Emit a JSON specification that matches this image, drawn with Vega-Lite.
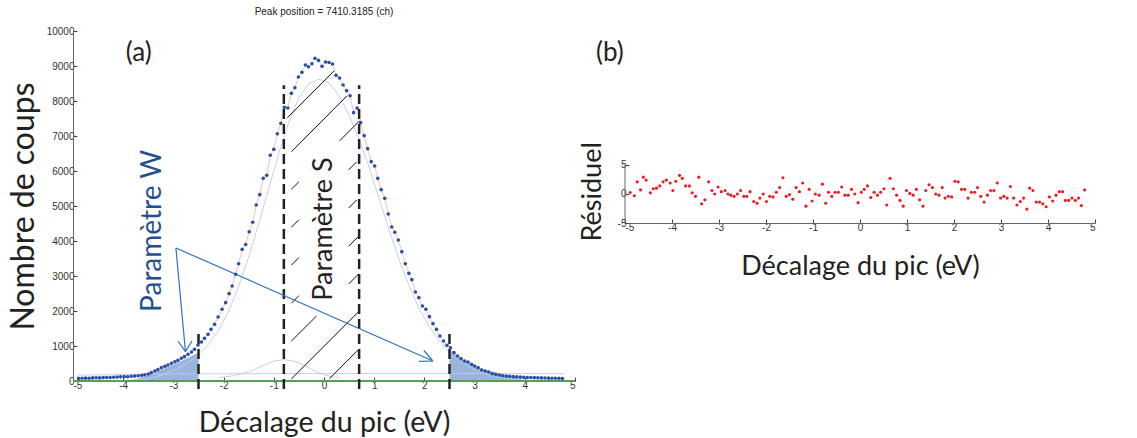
{
  "$schema": "https://vega.github.io/schema/vega-lite/v6.json",
  "padding": {"left": 7, "top": 7, "right": 5, "bottom": 5},
  "spacing": 2,
  "config": {
    "view": {"stroke": null},
    "axis": {
      "labelFont": "Liberation Sans", "labelFontSize": 10, "labelColor": "#333", "labelExpr": "'' + datum.value",
      "titleFont": "Lato", "titleFontWeight": "normal", "titleColor": "#222",
      "domainColor": "#666", "tickColor": "#444", "tickSize": -4, "grid": false, "labelPadding": 3
    }
  },
  "datasets": {
    "dots": [
      {"x":-4.89,"y":75},{"x":-4.82,"y":78},{"x":-4.75,"y":82},{"x":-4.68,"y":80},{"x":-4.61,"y":88},{"x":-4.54,"y":92},{"x":-4.47,"y":88},{"x":-4.40,"y":95},{"x":-4.33,"y":98},{"x":-4.26,"y":102},{"x":-4.19,"y":108},{"x":-4.12,"y":112},{"x":-4.05,"y":118},{"x":-3.98,"y":125},{"x":-3.91,"y":122},{"x":-3.84,"y":135},{"x":-3.77,"y":140},{"x":-3.70,"y":150},{"x":-3.63,"y":162},{"x":-3.57,"y":178},{"x":-3.50,"y":200},{"x":-3.44,"y":238},{"x":-3.37,"y":286},{"x":-3.31,"y":324},{"x":-3.24,"y":381},{"x":-3.17,"y":419},{"x":-3.11,"y":457},{"x":-3.04,"y":505},{"x":-2.97,"y":552},{"x":-2.91,"y":590},{"x":-2.84,"y":648},{"x":-2.78,"y":695},{"x":-2.71,"y":762},{"x":-2.64,"y":829},{"x":-2.58,"y":905},{"x":-2.51,"y":1029},{"x":-2.44,"y":1114},{"x":-2.38,"y":1219},{"x":-2.31,"y":1333},{"x":-2.25,"y":1476},{"x":-2.18,"y":1619},{"x":-2.11,"y":1829},{"x":-2.03,"y":2048},{"x":-1.96,"y":2238},{"x":-1.89,"y":2495},{"x":-1.83,"y":2714},{"x":-1.76,"y":3048},{"x":-1.70,"y":3352},{"x":-1.63,"y":3760},{"x":-1.56,"y":3900},{"x":-1.49,"y":4266},{"x":-1.42,"y":4534},{"x":-1.35,"y":5029},{"x":-1.28,"y":5324},{"x":-1.21,"y":5790},{"x":-1.14,"y":5876},{"x":-1.07,"y":6448},{"x":-1.00,"y":6619},{"x":-0.93,"y":7066},{"x":-0.86,"y":7362},{"x":-0.79,"y":7819},{"x":-0.72,"y":7800},{"x":-0.65,"y":8219},{"x":-0.58,"y":8380},{"x":-0.51,"y":8686},{"x":-0.44,"y":8819},{"x":-0.37,"y":9029},{"x":-0.31,"y":8980},{"x":-0.24,"y":9066},{"x":-0.18,"y":9220},{"x":-0.11,"y":9160},{"x":-0.04,"y":8990},{"x":0.03,"y":9114},{"x":0.10,"y":9100},{"x":0.17,"y":9057},{"x":0.24,"y":8733},{"x":0.31,"y":8657},{"x":0.38,"y":8457},{"x":0.45,"y":8295},{"x":0.52,"y":8152},{"x":0.59,"y":7667},{"x":0.66,"y":7800},{"x":0.73,"y":7381},{"x":0.80,"y":7010},{"x":0.87,"y":6638},{"x":0.94,"y":6267},{"x":1.01,"y":6143},{"x":1.07,"y":5790},{"x":1.14,"y":5467},{"x":1.21,"y":5219},{"x":1.28,"y":4771},{"x":1.35,"y":4400},{"x":1.41,"y":4248},{"x":1.48,"y":4029},{"x":1.55,"y":3695},{"x":1.62,"y":3352},{"x":1.69,"y":3076},{"x":1.75,"y":2895},{"x":1.82,"y":2543},{"x":1.89,"y":2381},{"x":1.96,"y":2143},{"x":2.03,"y":2048},{"x":2.10,"y":1838},{"x":2.17,"y":1638},{"x":2.24,"y":1476},{"x":2.31,"y":1286},{"x":2.38,"y":1143},{"x":2.45,"y":1019},{"x":2.52,"y":952},{"x":2.59,"y":810},{"x":2.66,"y":714},{"x":2.73,"y":638},{"x":2.80,"y":571},{"x":2.87,"y":543},{"x":2.94,"y":480},{"x":3.00,"y":428},{"x":3.07,"y":381},{"x":3.14,"y":314},{"x":3.21,"y":286},{"x":3.28,"y":257},{"x":3.35,"y":210},{"x":3.42,"y":190},{"x":3.49,"y":171},{"x":3.56,"y":150},{"x":3.63,"y":140},{"x":3.70,"y":135},{"x":3.77,"y":125},{"x":3.84,"y":118},{"x":3.91,"y":110},{"x":3.98,"y":105},{"x":4.05,"y":100},{"x":4.12,"y":98},{"x":4.19,"y":95},{"x":4.26,"y":90},{"x":4.33,"y":88},{"x":4.40,"y":85},{"x":4.47,"y":82},{"x":4.54,"y":80},{"x":4.61,"y":78},{"x":4.68,"y":76},{"x":4.75,"y":73}
    ],
    "comp": [
      {"part":"main","x":-4.9,"y":0},{"part":"main","x":-4.0,"y":10},{"part":"main","x":-3.5,"y":60},{"part":"main","x":-3.2,"y":180},{"part":"main","x":-3.0,"y":300},{"part":"main","x":-2.8,"y":450},{"part":"main","x":-2.6,"y":620},{"part":"main","x":-2.5,"y":760},{"part":"main","x":-2.3,"y":1050},{"part":"main","x":-2.1,"y":1450},{"part":"main","x":-1.9,"y":2000},{"part":"main","x":-1.7,"y":2700},{"part":"main","x":-1.5,"y":3550},{"part":"main","x":-1.3,"y":4500},{"part":"main","x":-1.1,"y":5500},{"part":"main","x":-0.9,"y":6500},{"part":"main","x":-0.7,"y":7400},{"part":"main","x":-0.5,"y":8100},{"part":"main","x":-0.3,"y":8500},{"part":"main","x":-0.1,"y":8620},{"part":"main","x":0.1,"y":8520},{"part":"main","x":0.3,"y":8150},{"part":"main","x":0.5,"y":7600},{"part":"main","x":0.7,"y":6900},{"part":"main","x":0.9,"y":6100},{"part":"main","x":1.1,"y":5200},{"part":"main","x":1.3,"y":4300},{"part":"main","x":1.5,"y":3450},{"part":"main","x":1.7,"y":2700},{"part":"main","x":1.9,"y":2050},{"part":"main","x":2.1,"y":1550},{"part":"main","x":2.3,"y":1150},{"part":"main","x":2.5,"y":820},{"part":"main","x":2.7,"y":580},{"part":"main","x":2.9,"y":400},{"part":"main","x":3.1,"y":270},{"part":"main","x":3.3,"y":170},{"part":"main","x":3.5,"y":100},{"part":"main","x":3.8,"y":40},{"part":"main","x":4.2,"y":10},{"part":"main","x":4.8,"y":0},
      {"part":"bg","x":-4.9,"y":170},{"part":"bg","x":-2.5,"y":205},{"part":"bg","x":0,"y":215},{"part":"bg","x":2.5,"y":215},{"part":"bg","x":4.8,"y":210},
      {"part":"hump","x":-2.1,"y":100},{"part":"hump","x":-1.8,"y":150},{"part":"hump","x":-1.5,"y":260},{"part":"hump","x":-1.2,"y":450},{"part":"hump","x":-1.0,"y":570},{"part":"hump","x":-0.8,"y":610},{"part":"hump","x":-0.6,"y":570},{"part":"hump","x":-0.4,"y":450},{"part":"hump","x":-0.2,"y":300},{"part":"hump","x":0.0,"y":180},{"part":"hump","x":0.15,"y":120},{"part":"hump","x":0.3,"y":100}
    ],
    "tails": [
      {"side":"L","x":-3.8,"y":20},{"side":"L","x":-3.6,"y":120},{"side":"L","x":-3.4,"y":220},{"side":"L","x":-3.2,"y":350},{"side":"L","x":-3.0,"y":470},{"side":"L","x":-2.8,"y":600},{"side":"L","x":-2.6,"y":740},{"side":"L","x":-2.5,"y":800},
      {"side":"R","x":2.5,"y":900},{"side":"R","x":2.75,"y":600},{"side":"R","x":3.0,"y":420},{"side":"R","x":3.3,"y":280},{"side":"R","x":3.6,"y":180},{"side":"R","x":3.9,"y":60},{"side":"R","x":4.0,"y":0}
    ],
    "seg": [
      {"kind":"hatch","x":-0.73,"y":7520,"x2":0.20,"y2":8860},
      {"kind":"hatch","x":-0.65,"y":6550,"x2":0.46,"y2":8150},
      {"kind":"hatch","x":-0.65,"y":5480,"x2":-0.50,"y2":5690},
      {"kind":"hatch","x":0.31,"y":6860,"x2":0.70,"y2":7420},
      {"kind":"hatch","x":-0.65,"y":4390,"x2":-0.50,"y2":4610},
      {"kind":"hatch","x":0.49,"y":6030,"x2":0.65,"y2":6260},
      {"kind":"hatch","x":-0.65,"y":3310,"x2":-0.50,"y2":3530},
      {"kind":"hatch","x":0.49,"y":4940,"x2":0.65,"y2":5170},
      {"kind":"hatch","x":-0.65,"y":2220,"x2":-0.50,"y2":2440},
      {"kind":"hatch","x":0.49,"y":3850,"x2":0.68,"y2":4120},
      {"kind":"hatch","x":-0.65,"y":1140,"x2":-0.15,"y2":1855},
      {"kind":"hatch","x":0.49,"y":2770,"x2":0.69,"y2":3060},
      {"kind":"hatch","x":-0.65,"y":60,"x2":0.69,"y2":1980},
      {"kind":"hatch","x":0.11,"y":68,"x2":0.69,"y2":900},
      {"kind":"dash","x":-0.8,"y":-230,"x2":-0.8,"y2":8450},
      {"kind":"dash","x":0.7,"y":-230,"x2":0.7,"y2":8450},
      {"kind":"dash","x":-2.5,"y":-230,"x2":-2.5,"y2":1380},
      {"kind":"dash","x":2.5,"y":-230,"x2":2.5,"y2":1380},
      {"kind":"arrow","x":-2.95,"y":3800,"x2":-2.76,"y2":840},
      {"kind":"arrow","x":-2.95,"y":3800,"x2":2.17,"y2":571},
      {"kind":"arrow","x":-2.91,"y":1143,"x2":-2.76,"y2":840},
      {"kind":"arrow","x":-2.63,"y":1143,"x2":-2.76,"y2":840},
      {"kind":"arrow","x":1.99,"y":871,"x2":2.17,"y2":571},
      {"kind":"arrow","x":1.89,"y":563,"x2":2.17,"y2":571}
    ],
    "resid": [
      {"x":-4.89,"r":0.26},{"x":-4.80,"r":-0.3},{"x":-4.74,"r":2.1},{"x":-4.67,"r":0.7},{"x":-4.61,"r":2.9},{"x":-4.55,"r":2.4},{"x":-4.46,"r":0.2},{"x":-4.40,"r":0.9},{"x":-4.33,"r":1.0},{"x":-4.26,"r":1.4},{"x":-4.19,"r":2.1},{"x":-4.12,"r":2.4},{"x":-4.04,"r":1.9},{"x":-3.98,"r":0.6},{"x":-3.92,"r":2.2},{"x":-3.84,"r":3.2},{"x":-3.78,"r":2.7},{"x":-3.71,"r":1.4},{"x":-3.63,"r":1.4},{"x":-3.57,"r":0.2},{"x":-3.50,"r":-0.4},{"x":-3.43,"r":2.9},{"x":-3.37,"r":-1.7},{"x":-3.30,"r":-1.0},{"x":-3.22,"r":2.1},{"x":-3.15,"r":0.6},{"x":-3.09,"r":0},{"x":-3.02,"r":1.2},{"x":-2.95,"r":0.4},{"x":-2.87,"r":0.6},{"x":-2.81,"r":0},{"x":-2.75,"r":-0.2},{"x":-2.68,"r":-0.4},{"x":-2.61,"r":0},{"x":-2.54,"r":0.6},{"x":-2.47,"r":-0.4},{"x":-2.41,"r":-0.4},{"x":-2.34,"r":0.4},{"x":-2.26,"r":-1.3},{"x":-2.19,"r":-1.6},{"x":-2.13,"r":-0.7},{"x":-2.06,"r":0},{"x":-1.99,"r":-1.3},{"x":-1.92,"r":-0.4},{"x":-1.85,"r":-0.5},{"x":-1.78,"r":0.3},{"x":-1.71,"r":1.1},{"x":-1.64,"r":2.8},{"x":-1.57,"r":-0.4},{"x":-1.50,"r":-0.1},{"x":-1.43,"r":-0.9},{"x":-1.36,"r":1.1},{"x":-1.29,"r":0.4},{"x":-1.22,"r":1.9},{"x":-1.15,"r":-2.1},{"x":-1.08,"r":0.8},{"x":-1.02,"r":-1.2},{"x":-0.95,"r":0},{"x":-0.87,"r":-0.2},{"x":-0.80,"r":1.7},{"x":-0.73,"r":-1.6},{"x":-0.67,"r":0.3},{"x":-0.60,"r":-0.4},{"x":-0.53,"r":0.3},{"x":-0.46,"r":0.3},{"x":-0.39,"r":1.2},{"x":-0.32,"r":-0.2},{"x":-0.25,"r":-0.2},{"x":-0.18,"r":0.8},{"x":-0.11,"r":0},{"x":-0.04,"r":-1.5},{"x":0.03,"r":0.3},{"x":0.09,"r":0.8},{"x":0.16,"r":1.4},{"x":0.23,"r":-0.6},{"x":0.30,"r":0.3},{"x":0.37,"r":-0.2},{"x":0.44,"r":0.3},{"x":0.51,"r":0.9},{"x":0.57,"r":-1.9},{"x":0.64,"r":2.7},{"x":0.71,"r":0.9},{"x":0.78,"r":-0.2},{"x":0.85,"r":-1.1},{"x":0.92,"r":-2.1},{"x":0.99,"r":0.6},{"x":1.06,"r":0.1},{"x":1.13,"r":-0.2},{"x":1.20,"r":0.8},{"x":1.27,"r":-1.0},{"x":1.34,"r":-2.1},{"x":1.40,"r":0.6},{"x":1.47,"r":1.6},{"x":1.54,"r":1.1},{"x":1.61,"r":0},{"x":1.68,"r":-0.2},{"x":1.75,"r":1.1},{"x":1.81,"r":-0.7},{"x":1.88,"r":-0.4},{"x":1.95,"r":-0.5},{"x":2.02,"r":2.2},{"x":2.09,"r":2.1},{"x":2.16,"r":0.8},{"x":2.23,"r":0.8},{"x":2.30,"r":-0.7},{"x":2.37,"r":0.3},{"x":2.44,"r":0.3},{"x":2.50,"r":1.1},{"x":2.57,"r":-0.4},{"x":2.64,"r":-1.4},{"x":2.71,"r":-0.2},{"x":2.78,"r":0.6},{"x":2.85,"r":0.6},{"x":2.92,"r":1.9},{"x":2.99,"r":-0.7},{"x":3.06,"r":-0.4},{"x":3.13,"r":-0.7},{"x":3.20,"r":1.3},{"x":3.27,"r":-0.7},{"x":3.34,"r":-1.9},{"x":3.41,"r":-1.3},{"x":3.48,"r":-0.7},{"x":3.55,"r":-2.6},{"x":3.61,"r":1.0},{"x":3.68,"r":0.6},{"x":3.75,"r":-1.4},{"x":3.82,"r":-1.4},{"x":3.89,"r":-1.7},{"x":3.96,"r":-2.2},{"x":4.03,"r":-0.5},{"x":4.10,"r":-1.2},{"x":4.17,"r":-0.2},{"x":4.24,"r":0.4},{"x":4.31,"r":0.4},{"x":4.37,"r":-1.1},{"x":4.44,"r":-1.1},{"x":4.51,"r":-0.7},{"x":4.58,"r":-1.1},{"x":4.65,"r":-0.7},{"x":4.71,"r":-2.0},{"x":4.78,"r":0.7}
    ]
  },
  "hconcat": [
    {
      "width": 502,
      "height": 350,
      "title": {"text": "Peak position = 7410.3185 (ch)", "font": "Liberation Sans", "fontSize": 10, "fontWeight": "normal", "color": "#222", "anchor": "middle", "frame": "group", "offset": 9},
      "encoding": {
        "x": {"type": "quantitative", "scale": {"domain": [-5, 5], "nice": false, "zero": false},
              "axis": {"values": [-5,-4,-3,-2,-1,0,1,2,3,4,5], "title": "Décalage du pic (eV)", "titleFontSize": 28.5, "titlePadding": 18}},
        "y": {"type": "quantitative", "scale": {"domain": [0, 10000], "nice": false},
              "axis": {"values": [0,1000,2000,3000,4000,5000,6000,7000,8000,9000,10000], "title": "Nombre de coups", "titleFontSize": 32, "titlePadding": 6}}
      },
      "layer": [
        {
          "data": {"name": "tails"},
          "transform": [{"filter": "datum.side === 'L'"}],
          "mark": {"type": "area", "color": "#94b1da", "opacity": 0.95},
          "encoding": {"x": {"field": "x"}, "y": {"field": "y", "stack": null}}
        },
        {
          "data": {"name": "tails"},
          "transform": [{"filter": "datum.side === 'R'"}],
          "mark": {"type": "area", "color": "#94b1da", "opacity": 0.95},
          "encoding": {"x": {"field": "x"}, "y": {"field": "y", "stack": null}}
        },
        {
          "data": {"name": "comp"},
          "mark": {"type": "line", "color": "#bccbeb", "strokeWidth": 0.9},
          "encoding": {"x": {"field": "x"}, "y": {"field": "y"}, "detail": {"field": "part", "type": "nominal"}}
        },
        {
          "data": {"name": "dots"},
          "mark": {"type": "line", "color": "#f7b0b0", "strokeWidth": 0.8},
          "encoding": {"x": {"field": "x"}, "y": {"field": "y"}}
        },
        {
          "data": {"values": [{}]},
          "mark": {"type": "rule", "color": "#55a055", "strokeWidth": 2},
          "encoding": {"x": {"datum": -5}, "x2": {"datum": 5}, "y": {"datum": 0}}
        },
        {
          "data": {"name": "seg"},
          "transform": [{"filter": "datum.kind === 'hatch'"}],
          "mark": {"type": "rule", "color": "#111", "strokeWidth": 1},
          "encoding": {"x": {"field": "x"}, "y": {"field": "y"}, "x2": {"field": "x2"}, "y2": {"field": "y2"}}
        },
        {
          "data": {"name": "seg"},
          "transform": [{"filter": "datum.kind === 'dash'"}],
          "mark": {"type": "rule", "color": "#222", "strokeWidth": 2.5, "strokeDash": [10, 5]},
          "encoding": {"x": {"field": "x"}, "y": {"field": "y"}, "x2": {"field": "x2"}, "y2": {"field": "y2"}}
        },
        {
          "data": {"name": "seg"},
          "transform": [{"filter": "datum.kind === 'arrow'"}],
          "mark": {"type": "rule", "color": "#2f73c0", "strokeWidth": 1.2},
          "encoding": {"x": {"field": "x"}, "y": {"field": "y"}, "x2": {"field": "x2"}, "y2": {"field": "y2"}}
        },
        {
          "data": {"name": "dots"},
          "mark": {"type": "point", "filled": true, "color": "#2a50a5", "size": 13, "opacity": 1},
          "encoding": {"x": {"field": "x"}, "y": {"field": "y"}}
        },
        {
          "data": {"values": [{}]},
          "mark": {"type": "text", "text": "(a)", "font": "Lato", "fontSize": 26, "color": "#222", "align": "center", "baseline": "middle"},
          "encoding": {"x": {"datum": -3.69}, "y": {"datum": 9370}}
        },
        {
          "data": {"values": [{}]},
          "mark": {"type": "text", "text": "Paramètre W", "font": "Lato", "fontSize": 28, "color": "#24508f", "align": "center", "baseline": "middle", "angle": 270},
          "encoding": {"x": {"datum": -3.4}, "y": {"datum": 4290}}
        },
        {
          "data": {"values": [{}]},
          "mark": {"type": "text", "text": "Paramètre S", "font": "Lato", "fontSize": 27, "color": "#222", "align": "center", "baseline": "middle", "angle": 270},
          "encoding": {"x": {"datum": 0}, "y": {"datum": 4340}}
        }
      ]
    },
    {
      "width": 470,
      "height": 192,
      "encoding": {
        "x": {"type": "quantitative", "scale": {"domain": [-5, 5], "nice": false, "zero": false},
              "axis": {"values": [-5,-4,-3,-2,-1,0,1,2,3,4,5], "title": "Décalage du pic (eV)", "titleFontSize": 27, "titlePadding": 21}},
        "y": {"type": "quantitative", "scale": {"domain": [-5, 28.1], "nice": false, "zero": false},
              "axis": {"values": [-5, 0, 5], "domain": false, "title": "Résiduel", "titleFontSize": 27, "titlePadding": 11, "titleAnchor": "start", "titleY": 210}}
      },
      "layer": [
        {
          "data": {"values": [{}]},
          "mark": {"type": "rule", "color": "#666", "strokeWidth": 1},
          "encoding": {"x": {"datum": -5}, "y": {"datum": -5}, "y2": {"datum": 5}}
        },
        {
          "data": {"name": "resid"},
          "mark": {"type": "point", "filled": true, "color": "#ee1c24", "size": 10, "opacity": 1},
          "encoding": {"x": {"field": "x"}, "y": {"field": "r"}}
        },
        {
          "data": {"values": [{}]},
          "mark": {"type": "text", "text": "(b)", "font": "Lato", "fontSize": 26, "color": "#222", "align": "center", "baseline": "middle"},
          "encoding": {"x": {"datum": -5.32}, "y": {"datum": 24.3}}
        }
      ]
    }
  ]
}
